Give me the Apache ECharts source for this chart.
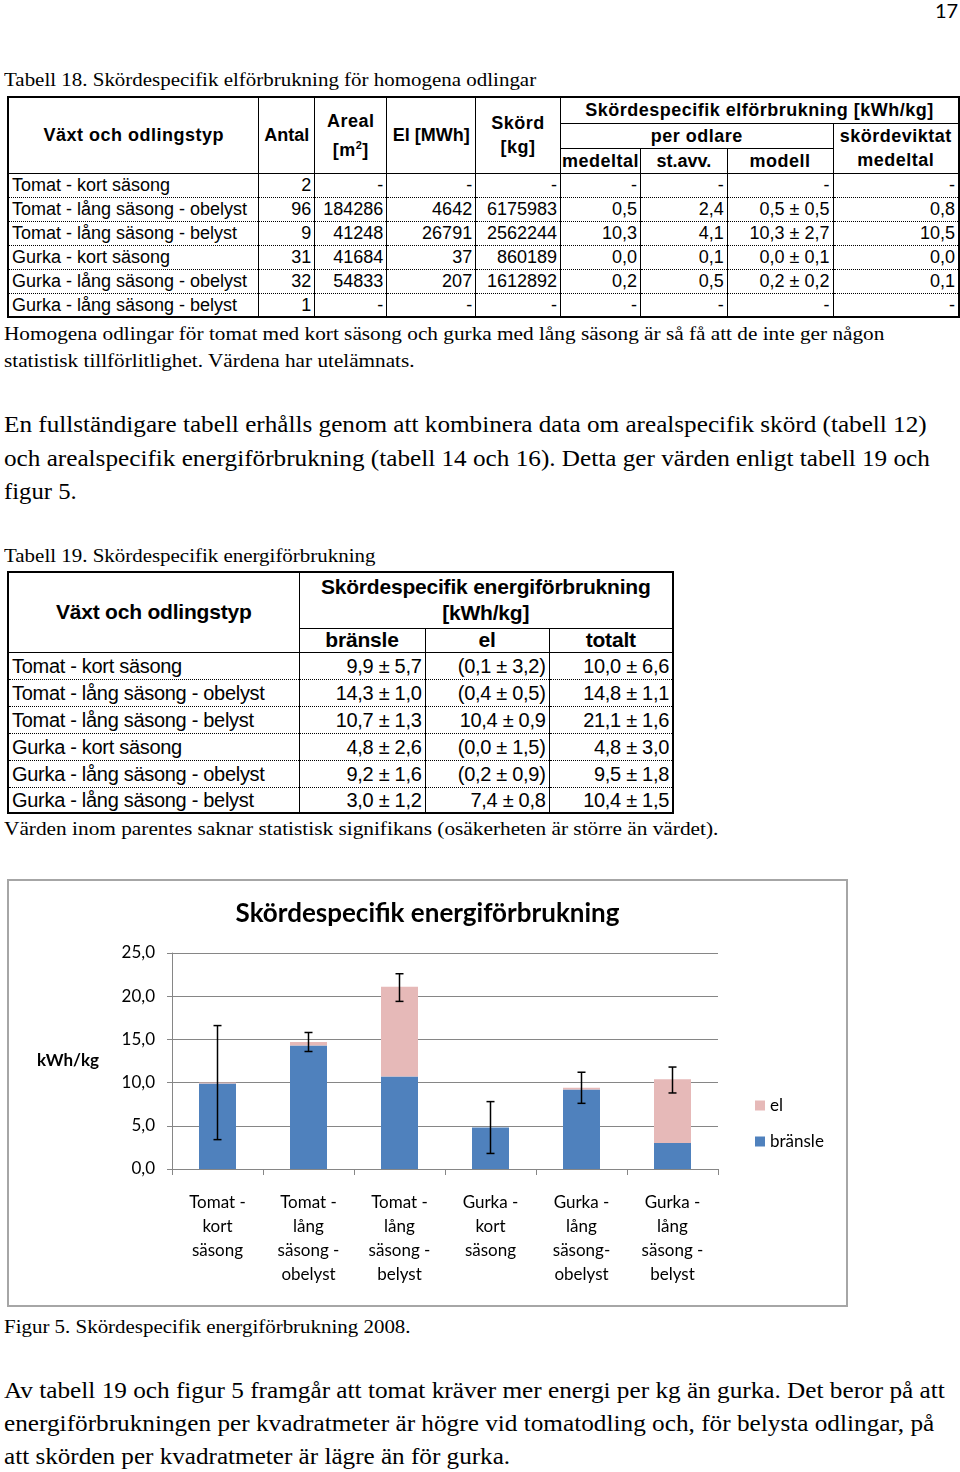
<!DOCTYPE html>
<html>
<head>
<meta charset="utf-8">
<script src="https://cdn.jsdelivr.net/npm/echarts@6/dist/echarts.min.js"></script>
<style>
  html, body { margin: 0; padding: 0; background: #fff; }
  body { width: 960px; height: 1472px; position: relative; overflow: hidden; color: #000; }
  .ln { position: absolute; left: 4px; white-space: nowrap; font-family: 'Liberation Serif', 'Times New Roman', serif; line-height: 1.2; transform-origin: 0 0; }
  .sm { font-size: 18px; }
  .bg { font-size: 24px; }
  .pg { position: absolute; left: 935px; top: 0; font-family: Lato, 'Open Sans', sans-serif; font-size: 20px; line-height: 20px; }
  table { position: absolute; border-collapse: collapse; table-layout: fixed; font-family: 'Liberation Sans', Arial, sans-serif; }
  td, th { padding: 0 3px; white-space: nowrap; overflow: hidden; border-left: 1px solid #000; border-right: 1px solid #000; }
  .t18 { left: 7px; top: 96px; font-size: 18px; border: 2px solid #000; }
  .t18 th { font-weight: bold; letter-spacing: 0.5px; line-height: 24px; text-align: center; }
  .t18 td { line-height: 22px; text-align: right; }
  .t19 { left: 7px; top: 571px; font-size: 20px; border: 2px solid #000; }
  .t19 th { font-weight: bold; font-size: 21px; line-height: 26px; text-align: center; letter-spacing: -0.2px; }
  .t19 td { line-height: 24px; text-align: right; letter-spacing: -0.3px; }
  td.l { text-align: left; }
  tr.d td { border-bottom: 1px dotted #000; }
  tr.d:last-child td { border-bottom: none; }
  .hb { border-bottom: 1.5px solid #000; }
  .bx { position: absolute; left: 7px; top: 879px; width: 841px; height: 428px; border: 2px solid #a6a6a6; box-sizing: border-box; }
  #chart { position: absolute; left: 0; top: 0; width: 837px; height: 424px; }
</style>
</head>
<body>
<div class="pg">17</div>

<div class="ln sm" data-b="87" data-w="532">Tabell 18. Skördespecifik elförbrukning för homogena odlingar</div>

<table class="t18">
  <colgroup>
    <col style="width:251px"><col style="width:56px"><col style="width:72px"><col style="width:89px"><col style="width:85px">
    <col style="width:80px"><col style="width:87px"><col style="width:106px"><col style="width:126px">
  </colgroup>
  <tr style="height:26px">
    <th rowspan="3" class="hb">Växt och odlingstyp</th>
    <th rowspan="3" class="hb" style="letter-spacing:0">Antal</th>
    <th rowspan="3" class="hb">Areal<br>[m<sup style="font-size:11px">2</sup>]</th>
    <th rowspan="3" class="hb" style="letter-spacing:0">El [MWh]</th>
    <th rowspan="3" class="hb">Skörd<br>[kg]</th>
    <th colspan="4" style="border-bottom:1px solid #000">Skördespecifik elförbrukning [kWh/kg]</th>
  </tr>
  <tr style="height:25px">
    <th colspan="3" style="border-bottom:1px solid #000">per odlare</th>
    <th rowspan="2" class="hb">skördeviktat<br>medeltal</th>
  </tr>
  <tr style="height:24px">
    <th class="hb" style="padding:0">medeltal</th>
    <th class="hb" style="letter-spacing:0">st.avv.</th>
    <th class="hb">modell</th>
  </tr>
  <tr class="d" style="height:24px"><td class="l">Tomat - kort säsong</td><td>2</td><td>-</td><td>-</td><td>-</td><td>-</td><td>-</td><td>-</td><td>-</td></tr>
  <tr class="d" style="height:24px"><td class="l">Tomat - lång säsong - obelyst</td><td>96</td><td>184286</td><td>4642</td><td>6175983</td><td>0,5</td><td>2,4</td><td>0,5 ± 0,5</td><td>0,8</td></tr>
  <tr class="d" style="height:24px"><td class="l">Tomat - lång säsong - belyst</td><td>9</td><td>41248</td><td>26791</td><td>2562244</td><td>10,3</td><td>4,1</td><td>10,3 ± 2,7</td><td>10,5</td></tr>
  <tr class="d" style="height:24px"><td class="l">Gurka - kort säsong</td><td>31</td><td>41684</td><td>37</td><td>860189</td><td>0,0</td><td>0,1</td><td>0,0 ± 0,1</td><td>0,0</td></tr>
  <tr class="d" style="height:24px"><td class="l">Gurka - lång säsong - obelyst</td><td>32</td><td>54833</td><td>207</td><td>1612892</td><td>0,2</td><td>0,5</td><td>0,2 ± 0,2</td><td>0,1</td></tr>
  <tr class="d" style="height:24px"><td class="l">Gurka - lång säsong - belyst</td><td>1</td><td>-</td><td>-</td><td>-</td><td>-</td><td>-</td><td>-</td><td>-</td></tr>
</table>

<div class="ln sm" data-b="341" data-w="880">Homogena odlingar för tomat med kort säsong och gurka med lång säsong är så få att de inte ger någon</div>
<div class="ln sm" data-b="368" data-w="411">statistisk tillförlitlighet. Värdena har utelämnats.</div>

<div class="ln bg" data-b="433" data-w="923">En fullständigare tabell erhålls genom att kombinera data om arealspecifik skörd (tabell 12)</div>
<div class="ln bg" data-b="467" data-w="926">och arealspecifik energiförbrukning (tabell 14 och 16). Detta ger värden enligt tabell 19 och</div>
<div class="ln bg" data-b="500" data-w="73">figur 5.</div>

<div class="ln sm" data-b="563" data-w="371">Tabell 19. Skördespecifik energiförbrukning</div>

<table class="t19">
  <colgroup><col style="width:291px"><col style="width:126px"><col style="width:124px"><col style="width:124px"></colgroup>
  <tr style="height:56px">
    <th rowspan="2" class="hb">Växt och odlingstyp</th>
    <th colspan="3" style="border-bottom:1px solid #000">Skördespecifik energiförbrukning<br>[kWh/kg]</th>
  </tr>
  <tr style="height:24px">
    <th class="hb" style="line-height:22px">bränsle</th><th class="hb" style="line-height:22px">el</th><th class="hb" style="line-height:22px">totalt</th>
  </tr>
  <tr class="d" style="height:27px"><td class="l">Tomat - kort säsong</td><td>9,9 ± 5,7</td><td>(0,1 ± 3,2)</td><td>10,0 ± 6,6</td></tr>
  <tr class="d" style="height:27px"><td class="l">Tomat - lång säsong - obelyst</td><td>14,3 ± 1,0</td><td>(0,4 ± 0,5)</td><td>14,8 ± 1,1</td></tr>
  <tr class="d" style="height:27px"><td class="l">Tomat - lång säsong - belyst</td><td>10,7 ± 1,3</td><td>10,4 ± 0,9</td><td>21,1 ± 1,6</td></tr>
  <tr class="d" style="height:27px"><td class="l">Gurka - kort säsong</td><td>4,8 ± 2,6</td><td>(0,0 ± 1,5)</td><td>4,8 ± 3,0</td></tr>
  <tr class="d" style="height:27px"><td class="l">Gurka - lång säsong - obelyst</td><td>9,2 ± 1,6</td><td>(0,2 ± 0,9)</td><td>9,5 ± 1,8</td></tr>
  <tr class="d" style="height:26px"><td class="l">Gurka - lång säsong - belyst</td><td>3,0 ± 1,2</td><td>7,4 ± 0,8</td><td>10,4 ± 1,5</td></tr>
</table>

<div class="ln sm" data-b="836" data-w="714">Värden inom parentes saknar statistisk signifikans (osäkerheten är större än värdet).</div>

<div class="bx"><div id="chart"></div></div>

<div class="ln sm" data-b="1334" data-w="407">Figur 5. Skördespecifik energiförbrukning 2008.</div>

<div class="ln bg" data-b="1399" data-w="941">Av tabell 19 och figur 5 framgår att tomat kräver mer energi per kg än gurka. Det beror på att</div>
<div class="ln bg" data-b="1432" data-w="930">energiförbrukningen per kvadratmeter är högre vid tomatodling och, för belysta odlingar, på</div>
<div class="ln bg" data-b="1465" data-w="506">att skörden per kvadratmeter är lägre än för gurka.</div>

<script>
// text lines: place on baseline and squeeze to the measured width
document.querySelectorAll('.ln').forEach(function (el) {
  var fs = parseFloat(getComputedStyle(el).fontSize);
  el.style.top = (parseFloat(el.dataset.b) - 0.94 * fs) + 'px';
  var w = el.offsetWidth;
  el.style.transform = 'scaleX(' + (parseFloat(el.dataset.w) / w) + ')';
});

// chart data
const categories = ['Tomat -\nkort\nsäsong', 'Tomat -\nlång\nsäsong -\nobelyst', 'Tomat -\nlång\nsäsong -\nbelyst',
  'Gurka -\nkort\nsäsong', 'Gurka -\nlång\nsäsong-\nobelyst', 'Gurka -\nlång\nsäsong -\nbelyst'];
const bransle = [9.9, 14.3, 10.7, 4.8, 9.2, 3.0];
const el = [0.1, 0.4, 10.4, 0.0, 0.2, 7.4];
const errCenter = [10.0, 14.7, 21.0, 4.8, 9.4, 10.3];
const errHalf = [6.6, 1.1, 1.6, 3.0, 1.8, 1.5];

const font = 'Lato, "Open Sans", sans-serif';
const chart = echarts.init(document.getElementById('chart'));

chart.setOption({
  animation: false,
  title: {
    text: 'Skördespecifik energiförbrukning',
    left: 'center',
    top: 15,
    textStyle: { fontFamily: font, fontSize: 26, fontWeight: 'bold', color: '#000' },
  },
  grid: { left: 163, right: 128, top: 72, bottom: 136 },
  legend: {
    data: ['el', 'bränsle'],
    orient: 'vertical',
    left: 741,
    top: 211,
    icon: 'rect',
    itemWidth: 10,
    itemHeight: 10,
    itemGap: 19,
    textStyle: { fontFamily: font, fontSize: 17, color: '#000' },
  },
  graphic: [
    {
      type: 'text',
      left: 28,
      top: 171,
      style: { text: 'kWh/kg', font: 'bold 17px ' + font, fill: '#000' },
    },
  ],
  xAxis: {
    type: 'category',
    data: categories,
    axisLine: { lineStyle: { color: '#868686', width: 1 } },
    axisTick: { show: true, length: 6, lineStyle: { color: '#868686' } },
    axisLabel: { interval: 0, margin: 22, fontFamily: font, fontSize: 17, lineHeight: 24, color: '#000' },
    splitLine: { show: false },
  },
  yAxis: {
    type: 'value',
    min: 0,
    max: 25,
    interval: 5,
    axisLine: { show: true, lineStyle: { color: '#868686', width: 1 } },
    axisTick: { show: true, length: 5, lineStyle: { color: '#868686' } },
    axisLabel: {
      margin: 17,
      fontFamily: font,
      fontSize: 17,
      color: '#000',
      formatter: (v) => v.toFixed(1).replace('.', ','),
    },
    splitLine: { show: true, lineStyle: { color: '#868686', width: 1 } },
  },
  series: [
    {
      name: 'bränsle',
      type: 'bar',
      stack: 'a',
      barWidth: 37,
      data: bransle,
      itemStyle: { color: '#4F81BD' },
    },
    {
      name: 'el',
      type: 'bar',
      stack: 'a',
      barWidth: 37,
      data: el,
      itemStyle: { color: '#E6B9B8' },
    },
    {
      name: 'fel',
      type: 'custom',
      z: 10,
      encode: { x: 0, y: [1, 2] },
      data: categories.map((c, i) => [i, errCenter[i] - errHalf[i], errCenter[i] + errHalf[i]]),
      renderItem: (params, api) => {
        const hi = api.coord([api.value(0), api.value(2)]);
        const lo = api.coord([api.value(0), api.value(1)]);
        const cap = 4;
        const st = { stroke: '#000', lineWidth: 1.5 };
        return {
          type: 'group',
          children: [
            { type: 'line', shape: { x1: hi[0], y1: hi[1], x2: lo[0], y2: lo[1] }, style: st },
            { type: 'line', shape: { x1: hi[0] - cap, y1: hi[1], x2: hi[0] + cap, y2: hi[1] }, style: st },
            { type: 'line', shape: { x1: lo[0] - cap, y1: lo[1], x2: lo[0] + cap, y2: lo[1] }, style: st },
          ],
        };
      },
    },
  ],
});
</script>
</body>
</html>
